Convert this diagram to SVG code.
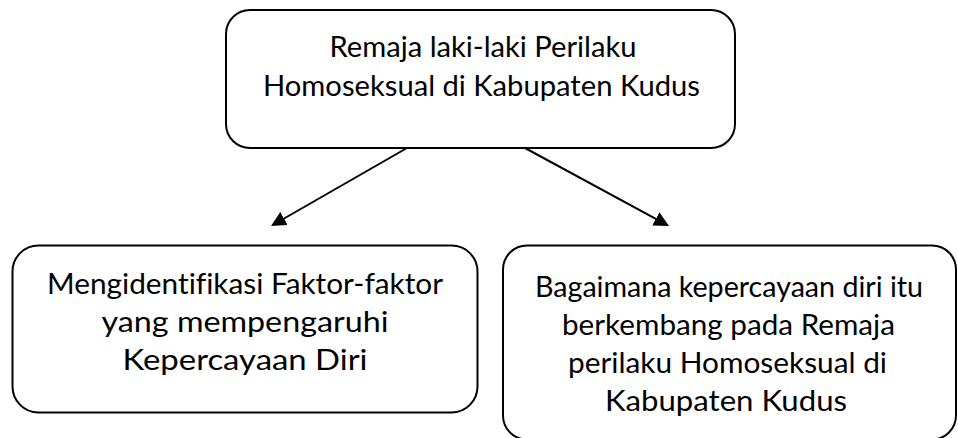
<svg xmlns="http://www.w3.org/2000/svg" width="958" height="438" viewBox="0 0 958 438">
  <style>
    .box { fill: #ffffff; stroke: #000000; stroke-width: 2; }
    .lbl { font-family: Lato, "Liberation Sans", sans-serif; font-size: 29.5px; fill: #000000; text-anchor: middle; font-variant-ligatures: none; font-feature-settings: "liga" 0, "clig" 0; }
    .conn { stroke: #000000; stroke-width: 2; fill: none; }
  </style>
  <defs>
    <marker id="arrow" markerUnits="userSpaceOnUse" markerWidth="16" markerHeight="16" refX="11" refY="7.5" orient="auto">
      <path d="M0,0 L15,7.5 L0,15 z" fill="#000000"/>
    </marker>
  </defs>
  <rect width="958" height="438" fill="#ffffff"/>
  <g id="connectors">
    <line class="conn" x1="407" y1="148" x2="274.5" y2="224" marker-end="url(#arrow)"/>
    <line class="conn" x1="525" y1="148" x2="665.5" y2="224.1" marker-end="url(#arrow)"/>
  </g>
  <g id="node-top">
    <rect class="box" x="226" y="10" width="509" height="138" rx="24" ry="24"/>
    <text class="lbl" x="483" y="57" textLength="307" lengthAdjust="spacingAndGlyphs">Remaja laki-laki Perilaku</text>
    <text class="lbl" x="481.5" y="96" textLength="437" lengthAdjust="spacingAndGlyphs">Homoseksual di Kabupaten Kudus</text>
  </g>
  <g id="node-left">
    <rect class="box" x="12.5" y="245.5" width="465" height="167" rx="26" ry="26"/>
    <text class="lbl" x="245" y="294" textLength="396" lengthAdjust="spacingAndGlyphs">Mengidentifikasi Faktor-faktor</text>
    <text class="lbl" x="245" y="332" textLength="287" lengthAdjust="spacingAndGlyphs">yang mempengaruhi</text>
    <text class="lbl" x="245" y="370" textLength="245" lengthAdjust="spacingAndGlyphs">Kepercayaan Diri</text>
  </g>
  <g id="node-right">
    <rect class="box" x="503" y="245.5" width="453" height="194" rx="24" ry="24"/>
    <text class="lbl" x="729" y="297" textLength="388" lengthAdjust="spacingAndGlyphs">Bagaimana kepercayaan diri itu</text>
    <text class="lbl" x="728.5" y="335" textLength="333" lengthAdjust="spacingAndGlyphs">berkembang pada Remaja</text>
    <text class="lbl" x="727.5" y="373" textLength="319" lengthAdjust="spacingAndGlyphs">perilaku Homoseksual di</text>
    <text class="lbl" x="726" y="411" textLength="242" lengthAdjust="spacingAndGlyphs">Kabupaten Kudus</text>
  </g>
</svg>
